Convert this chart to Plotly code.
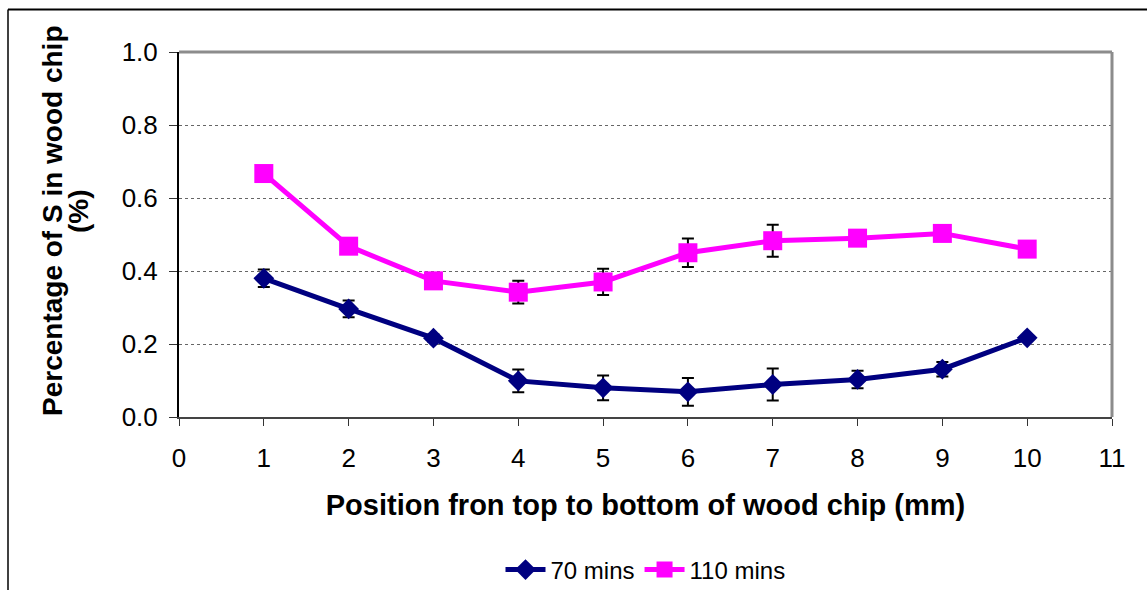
import plotly.graph_objects as go

# Position along the chip (mm)
positions = [1, 2, 3, 4, 5, 6, 7, 8, 9, 10]

# Sulphur content (%) after 70 minutes, with standard errors
s_70 = [0.380, 0.296, 0.216, 0.099, 0.080, 0.069, 0.089, 0.103, 0.131, 0.217]
err_70 = [0.024, 0.023, 0.010, 0.031, 0.034, 0.038, 0.044, 0.024, 0.020, 0.005]

# Sulphur content (%) after 110 minutes, with standard errors
s_110 = [0.667, 0.468, 0.373, 0.342, 0.370, 0.450, 0.483, 0.490, 0.503, 0.460]
err_110 = [0.010, 0.010, 0.010, 0.031, 0.036, 0.039, 0.044, 0.010, 0.010, 0.010]

x_ticks = list(range(0, 12))
y_ticks = [0.0, 0.2, 0.4, 0.6, 0.8, 1.0]

FONT = "Arial, Liberation Sans, sans-serif"

fig = go.Figure()

fig.add_trace(go.Scatter(
    x=positions, y=s_70, name="70 mins", mode="lines+markers",
    line=dict(color="#000080", width=5),
    marker=dict(symbol="diamond", size=16, color="#000080"),
    error_y=dict(type="data", array=err_70, visible=True,
                 color="black", thickness=2, width=6),
))

fig.add_trace(go.Scatter(
    x=positions, y=s_110, name="110 mins", mode="lines+markers",
    line=dict(color="#FF00FF", width=5),
    marker=dict(symbol="square", size=19, color="#FF00FF"),
    error_y=dict(type="data", array=err_110, visible=True,
                 color="black", thickness=2, width=6),
))

title_font = dict(family=FONT, size=28, color="black")

fig.update_layout(
    width=1147, height=590,
    margin=dict(l=179, r=35, t=52, b=173, autoexpand=False),
    paper_bgcolor="white", plot_bgcolor="white",
    font=dict(family=FONT, size=26, color="black"),
    showlegend=True,
    legend=dict(orientation="h", x=0.5, xanchor="center",
                y=-0.419, yanchor="middle",
                font=dict(family=FONT, size=24, color="black"),
                itemwidth=40),
    xaxis=dict(
        range=[0, 11], tickmode="array", tickvals=x_ticks,
        ticks="outside", ticklen=7, tickwidth=1, tickcolor="#333333",
        ticklabelstandoff=10,
        showline=True, linecolor="#444444", linewidth=2,
        showgrid=False, zeroline=False, automargin=False,
        tickfont=dict(family=FONT, size=26, color="black"),
        title=dict(text="<b>Position fron top to bottom of wood chip (mm)</b>",
                   font=dict(family=FONT, size=29, color="black"),
                   standoff=22),
    ),
    yaxis=dict(
        range=[0, 1.0], tickmode="array", tickvals=y_ticks,
        ticktext=[f"{v:.1f}" for v in y_ticks],
        ticks="outside", ticklen=8, tickwidth=1, tickcolor="#333333",
        ticklabelstandoff=6,
        showline=True, linecolor="black", linewidth=2,
        showgrid=True, gridcolor="#666666", gridwidth=1, griddash="dot",
        zeroline=False, automargin=False,
        tickfont=dict(family=FONT, size=26, color="black"),
    ),
    annotations=[
        dict(text="<b>Percentage of S in wood chip</b>",
             textangle=-90, xref="paper", yref="paper",
             x=(52 - 179) / 933, y=(417 - 221) / 365,
             xanchor="center", yanchor="middle",
             showarrow=False, font=title_font),
        dict(text="<b>(%)</b>",
             textangle=-90, xref="paper", yref="paper",
             x=(78 - 179) / 933, y=(417 - 211) / 365,
             xanchor="center", yanchor="middle",
             showarrow=False, font=title_font),
    ],
    shapes=[
        # gray frame on the top and right of the plotting area
        dict(type="line", xref="paper", yref="paper", x0=0, x1=1, y0=1, y1=1,
             line=dict(color="#8c8c8c", width=3)),
        dict(type="line", xref="paper", yref="paper", x0=1, x1=1, y0=0, y1=1,
             line=dict(color="#8c8c8c", width=3)),
        # outer chart border (top and left edges)
        dict(type="line", xref="paper", yref="paper",
             x0=(8 - 179) / 933, x1=(1150 - 179) / 933,
             y0=(417 - 9.5) / 365, y1=(417 - 9.5) / 365,
             line=dict(color="black", width=2)),
        dict(type="line", xref="paper", yref="paper",
             x0=(8 - 179) / 933, x1=(8 - 179) / 933,
             y0=(417 - 9.5) / 365, y1=(417 - 595) / 365,
             line=dict(color="black", width=1.5)),
    ],
)

fig.write_html("out.html")
